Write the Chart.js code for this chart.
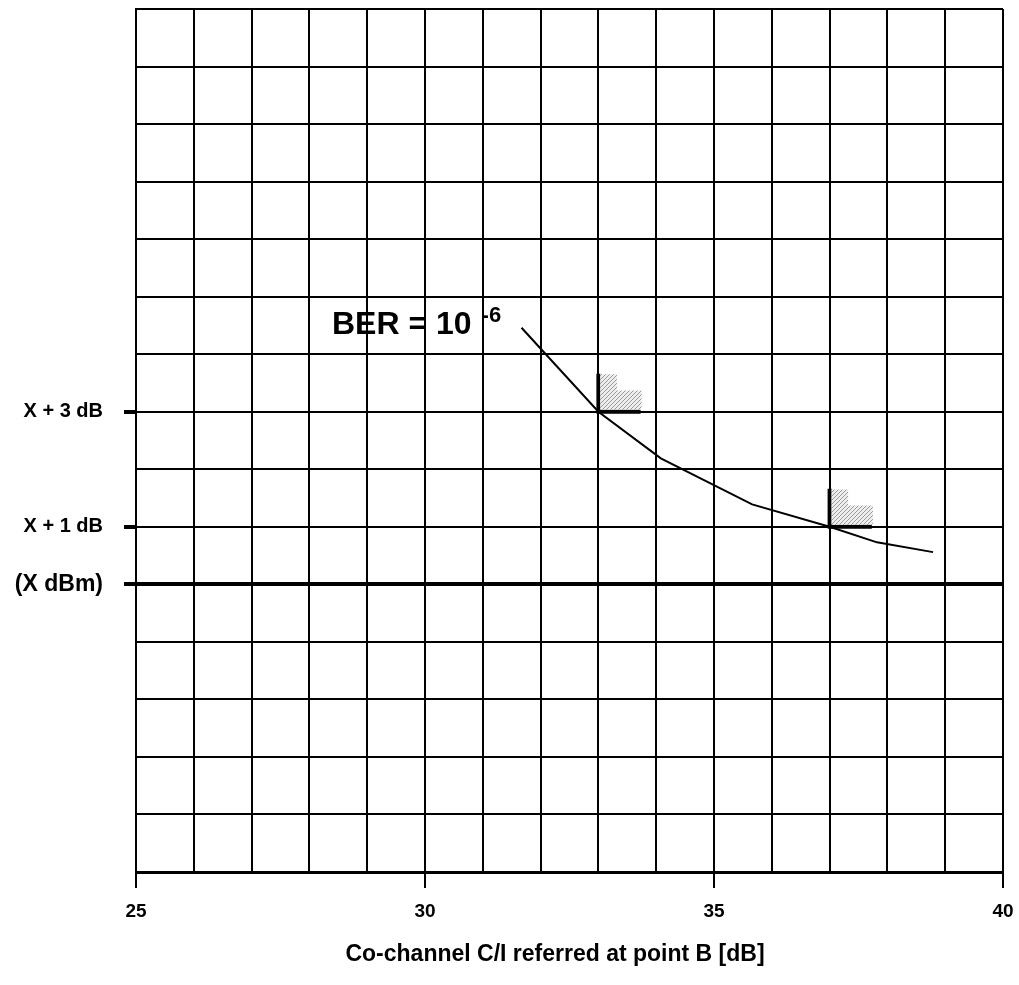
<!DOCTYPE html>
<html>
<head>
<meta charset="utf-8">
<script src="https://cdn.jsdelivr.net/npm/chart.js@4.4.1/dist/chart.umd.min.js"></script>
<style>
  html, body { margin: 0; padding: 0; background: #fff; }
  #wrap { width: 1019px; height: 985px; }
</style>
</head>
<body>
<div id="wrap"><canvas id="ber"></canvas></div>
<script>
// BER = 1e-6 curve
const curveX = [31.67, 33.0, 34.08, 35.66, 37.0, 37.82, 38.79];
const curveY = [4.46, 3.0, 2.19, 1.39, 1.0, 0.73, 0.56];

// L shaped limit markers (corner x, corner y)
const markX = [33, 37];
const markY = [3, 1];
const markUp = 0.66;      // vertical arm, dB
const markRight = 0.73;   // horizontal arm, dB
// hatched step next to each marker, offsets from the corner
const stepX = [0.03, 0.32, 0.32, 0.75];
const stepH = [0.65, 0.65, 0.37, 0.37];

const xTicks = [25, 30, 35, 40];
const yLabels = { 3: 'X + 3 dB', 1: 'X + 1 dB', 0: '(X dBm)' };
const xTitle = 'Co-channel C/I referred at point B [dB]';
const berText = ['BER = 10', '-6'];
const berAt = [28.39, 4.35];

const FONT = "'Liberation Sans', Arial, sans-serif";

// hatch pattern
function hatch() {
    const c = document.createElement('canvas');
    c.width = 4; c.height = 4;
    const g = c.getContext('2d');
    g.fillStyle = '#eeeeee';
    g.fillRect(0, 0, 4, 4);
    g.strokeStyle = '#999999';
    g.lineWidth = 1;
    g.beginPath();
    g.moveTo(0, 4); g.lineTo(4, 0);
    g.moveTo(-1, 1); g.lineTo(1, -1);
    g.moveTo(3, 5); g.lineTo(5, 3);
    g.stroke();
    return g.createPattern(c, 'repeat');
}
const pat = hatch();

const datasets = [];
markX.forEach((mx, i) => {
    const my = markY[i];
    datasets.push({
        data: stepX.map((dx, k) => ({ x: mx + dx, y: my + stepH[k] })),
        borderWidth: 0,
        pointRadius: 0,
        backgroundColor: pat,
        fill: { value: my + 0.04 }
    });
    datasets.push({
        data: [{ x: mx, y: my + markUp }, { x: mx, y: my }, { x: mx + markRight, y: my }],
        borderColor: '#000',
        borderWidth: 4,
        pointRadius: 0,
        fill: false
    });
});
datasets.push({
    data: curveX.map((x, i) => ({ x: x, y: curveY[i] })),
    borderColor: '#000',
    borderWidth: 2,
    pointRadius: 0,
    tension: 0,
    fill: false
});

const labelsPlugin = {
    id: 'labels',
    afterDraw(chart) {
        const c = chart.ctx;
        const xs = chart.scales.x, ys = chart.scales.y;
        c.save();
        c.fillStyle = '#000';
        // BER annotation
        const bx = xs.getPixelForValue(berAt[0]);
        const by = ys.getPixelForValue(berAt[1]);
        c.textBaseline = 'alphabetic';
        c.textAlign = 'left';
        c.font = 'bold 32px ' + FONT;
        c.fillText(berText[0], bx, by);
        const w = c.measureText(berText[0]).width;
        c.font = 'bold 22px ' + FONT;
        c.fillText(berText[1], bx + w + 10, by - 12);
        // axis title
        c.textAlign = 'center';
        c.textBaseline = 'middle';
        c.font = 'bold 23px ' + FONT;
        c.fillText(xTitle, 555, 955);
        c.restore();
    }
};

new Chart(document.getElementById('ber'), {
    type: 'line',
    data: { datasets: datasets },
    options: {
        responsive: true,
        maintainAspectRatio: false,
        animation: false,
        layout: { padding: { top: 9, right: 16, left: 0, bottom: 0 } },
        plugins: { legend: { display: false }, tooltip: { enabled: false } },
        scales: {
            x: {
                type: 'linear',
                min: 25,
                max: 40,
                afterFit: (s) => { s.height = 113; s.paddingLeft = 0; s.paddingRight = 0; },
                ticks: {
                    stepSize: 1,
                    autoSkip: false,
                    maxRotation: 0,
                    padding: 12,
                    color: '#000',
                    font: { family: FONT, size: 19, weight: 'bold' },
                    callback: (v) => xTicks.includes(v) ? String(v) : ''
                },
                grid: {
                    color: '#000',
                    lineWidth: 2,
                    tickLength: 16,
                    tickWidth: 2,
                    tickColor: (ctx) => xTicks.includes(ctx.tick.value) ? '#000' : 'rgba(0,0,0,0)'
                },
                border: { color: '#000', width: 3 }
            },
            y: {
                type: 'linear',
                min: -5,
                max: 10,
                afterFit: (s) => { s.width = 136; s.paddingTop = 0; s.paddingBottom = 0; },
                ticks: {
                    stepSize: 1,
                    autoSkip: false,
                    padding: 21,
                    color: '#000',
                    font: (ctx) => ({ family: FONT, weight: 'bold', size: ctx.tick && ctx.tick.value === 0 ? 23 : 20 }),
                    callback: (v) => yLabels[v] || ''
                },
                grid: {
                    color: '#000',
                    lineWidth: (ctx) => ctx.tick && ctx.tick.value === 0 ? 4 : 2,
                    tickLength: 12,
                    tickWidth: 4,
                    tickColor: (ctx) => (ctx.tick && yLabels[ctx.tick.value]) ? '#000' : 'rgba(0,0,0,0)'
                },
                border: { color: '#000', width: 2 }
            }
        }
    },
    plugins: [labelsPlugin]
});
</script>
</body>
</html>
